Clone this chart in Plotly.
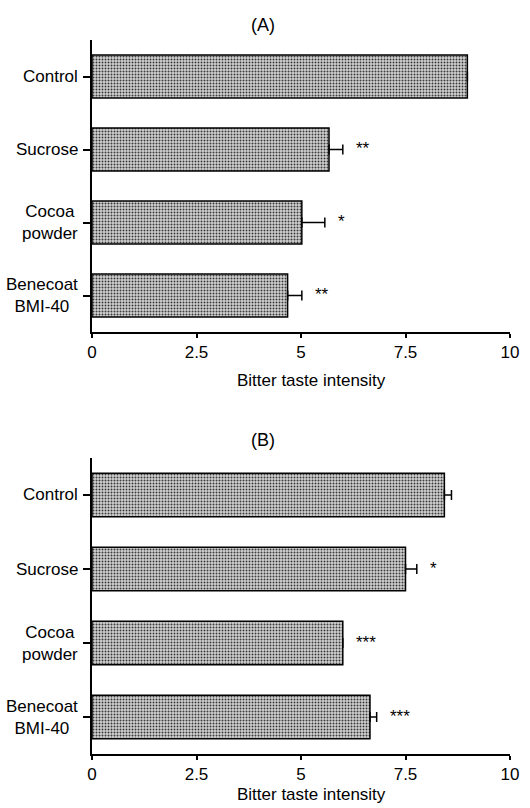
import plotly.graph_objects as go

categories = ["Control", "Sucrose", "Cocoa<br>powder", "Benecoat<br>BMI-40"]
a_means = [8.98, 5.67, 5.02, 4.68]
a_err = [None, 0.33, 0.55, 0.34]
a_sig = ["", "**", "*", "**"]
b_means = [8.43, 7.50, 6.00, 6.65]
b_err = [0.17, 0.27, None, 0.16]
b_sig = ["", "*", "***", "***"]
x_ticks = [0, 2.5, 5, 7.5, 10]
x_ticktext = ["0", "2.5", "5", "7.5", "10"]
panel_titles = ["(A)", "(B)"]
x_title = "Bitter taste intensity"

FONT = "Liberation Sans, Arial, sans-serif"
FS = 17
W, H = 530, 808

def py(px):
    return 1 - px / H

fig = go.Figure()

panels = [
    (a_means, a_err, a_sig, "x", "y"),
    (b_means, b_err, b_sig, "x2", "y2"),
]

x0, x1 = 92 / W, 510 / W

for means, errs, sigs, xa, ya in panels:
    fig.add_trace(go.Bar(
        y=categories, x=means, orientation="h", width=0.59,
        xaxis=xa, yaxis=ya,
        marker=dict(
            color="#bdbdbd",
            line=dict(color="black", width=1.5),
            pattern=dict(shape=".", fgcolor="#3a3a3a", bgcolor="#d2d2d2",
                         size=3, solidity=0.35, fillmode="replace"),
        ),
        error_x=dict(type="data", symmetric=False,
                     array=[e if e is not None else float("nan") for e in errs],
                     arrayminus=[0] * len(errs),
                     color="black", thickness=1.5, width=5),
        showlegend=False, hoverinfo="skip",
    ))
    for cat, m, e, s in zip(categories, means, errs, sigs):
        if s:
            fig.add_annotation(
                x=m + (e or 0), y=cat, xref=xa, yref=ya, text=s,
                showarrow=False, xanchor="left", yanchor="middle", xshift=11, yshift=1,
                font=dict(family=FONT, size=FS, color="black"),
            )
    for cat in categories:
        fig.add_annotation(
            x=x0, y=cat, xref="paper", yref=ya, text=cat,
            showarrow=False, xanchor="right", yanchor="middle", xshift=-12,
            align="center",
            font=dict(family=FONT, size=FS, color="black"),
        )

axis_common = dict(
    range=[0, 10], tickvals=x_ticks, ticktext=x_ticktext,
    showline=True, linecolor="black", linewidth=1.5,
    ticks="outside", ticklen=4, tickwidth=1.5, tickcolor="black",
    showgrid=False, zeroline=False, automargin=False,
    tickfont=dict(family=FONT, size=FS, color="black"),
    domain=[x0, x1],
)
yaxis_common = dict(
    type="category", range=[3.5, -0.5],
    showline=True, linecolor="black", linewidth=1.5,
    ticks="outside", ticklen=7, tickwidth=1.5, tickcolor="black",
    showgrid=False, zeroline=False, showticklabels=False, automargin=False,
)

fig.update_layout(
    width=W, height=H, autosize=False,
    margin=dict(l=0, r=0, t=0, b=0, autoexpand=False),
    paper_bgcolor="white", plot_bgcolor="white",
    xaxis=dict(**axis_common, anchor="y"),
    yaxis=dict(**yaxis_common, anchor="x", domain=[py(332), py(40)]),
    xaxis2=dict(**axis_common, anchor="y2"),
    yaxis2=dict(**yaxis_common, anchor="x2", domain=[py(754), py(458)]),
)

for t, ypx in zip(panel_titles, [25, 440]):
    fig.add_annotation(
        x=263 / W, y=py(ypx), xref="paper", yref="paper",
        text=t, showarrow=False, xanchor="center", yanchor="middle",
        font=dict(family=FONT, size=FS + 1, color="black"),
    )
for ypx in [380, 794]:
    fig.add_annotation(
        x=311 / W, y=py(ypx), xref="paper", yref="paper",
        text=x_title, showarrow=False, xanchor="center", yanchor="middle",
        font=dict(family=FONT, size=FS, color="black"),
    )

fig.write_html("out.html")
